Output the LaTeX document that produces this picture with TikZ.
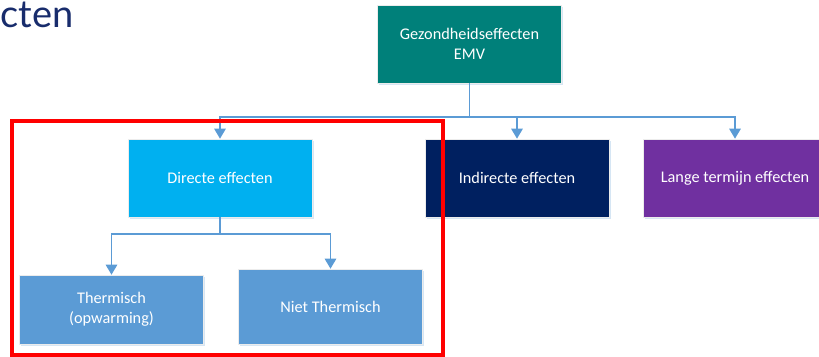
\documentclass[tikz,border=0pt]{standalone}
\usepackage{fontspec}
\setmainfont{Carlito}
\newfontfamily\titlefont{Lato}
\usetikzlibrary{arrows.meta}
\usetikzlibrary{shadows}

\definecolor{emvteal}{RGB}{0,128,122}
\definecolor{emvcyan}{RGB}{0,176,240}
\definecolor{emvnavy}{RGB}{0,32,96}
\definecolor{emvpurple}{RGB}{112,48,160}
\definecolor{emvblue}{RGB}{91,155,213}
\definecolor{emvtitle}{RGB}{24,44,108}

\tikzset{
 effect/.style={draw=white!85!gray,line width=0.4pt,text=white,align=center,
  minimum width=138pt,minimum height=58.5pt,inner sep=0pt,
  font=\fontsize{12.2}{15}\selectfont,
  drop shadow={shadow xshift=1.2pt,shadow yshift=-1.5pt,fill=emvblue!25,opacity=1}},
 link/.style={draw=emvblue,line width=1.3pt,-{Triangle[width=8.5pt,length=7.5pt]}}
}

\begin{document}
\begin{tikzpicture}[x=0.75pt,y=-0.75pt]
 \clip (0,0) rectangle (819,357);
 \node[anchor=base west,text=emvtitle,font=\titlefont\fontsize{28.5}{30}\selectfont,inner sep=0pt] (T) at (0.5,27.5) {cten};

 \node[effect,fill=emvteal] (G) at (469.5,44) {Gezondheidseffecten\\EMV};
 \node[effect,fill=emvcyan] (D) at (220,178) {Directe effecten};
 \node[effect,fill=emvnavy] (I) at (517,178) {Indirecte effecten};
 \node[effect,fill=emvpurple] (L) at (735,178) {Lange termijn effecten};
 \node[effect,fill=emvblue,minimum height=51.75pt] (TH) at (111.5,309.5) {Thermisch\\(opwarming)};
 \node[effect,fill=emvblue,minimum height=56.25pt] (NT) at (330.5,306.5) {Niet Thermisch};

 \coordinate (G1) at (469.5,117);
 \coordinate (D1) at (220,234);
 \draw[link] (G.south) -- (G1) -| (D.north);
 \draw[link] (G1) -| (I.north);
 \draw[link] (G1) -| (L.north);
 \draw[link] (D.south) -- (D1) -| (TH.north);
 \draw[link] (D1) -| (NT.north);

 \draw[red,line width=3pt] (12,121) rectangle (443,355);
\end{tikzpicture}
\end{document}
